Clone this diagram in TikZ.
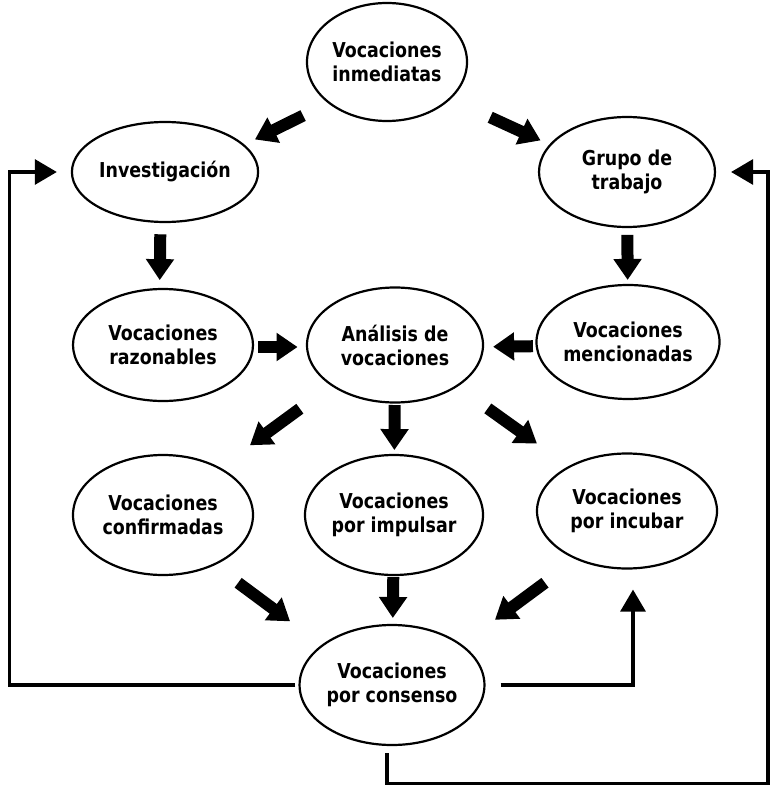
\documentclass[tikz,border=0pt]{standalone}
\usepackage{fontspec}
\setmainfont{DejaVu Sans}[FakeStretch=0.85]
\usetikzlibrary{shapes.geometric,arrows.meta,calc}
\begin{document}
\begin{tikzpicture}[x=1pt,y=-1pt,
  voc/.style={ellipse,draw,line width=2.2pt,inner sep=0pt,align=center,
    font=\bfseries\fontsize{20.5}{24}\selectfont},
  barrow/.style={line width=12pt,-{Triangle[length=21pt,width=27pt]}},
  loopline/.style={line width=3.2pt,-{Triangle[length=22pt,width=25pt]}},
]
\useasboundingbox[fill=white] (0,0) rectangle (774,791);
% nodes
\node[voc,minimum width=160pt,minimum height=118pt] (inm) at (387,62) {Vocaciones\\inmediatas};
\node[voc,minimum width=182pt,minimum height=100pt] (inv) at (165,172) {Investigación};
\node[voc,minimum width=176pt,minimum height=110pt] (grp) at (627,172) {Grupo de\\trabajo};
\node[voc,minimum width=180pt,minimum height=112pt] (raz) at (163,345) {Vocaciones\\razonables};
\node[voc,minimum width=176pt,minimum height=115pt] (ana) at (395,345) {Análisis de\\vocaciones};
\node[voc,minimum width=180pt,minimum height=114pt] (men) at (628,342) {Vocaciones\\mencionadas};
\node[voc,minimum width=180pt,minimum height=120pt] (cnf) at (163,515) {Vocaciones\\confirmadas};
\node[voc,minimum width=178pt,minimum height=120pt] (imp) at (394,515) {Vocaciones\\por impulsar};
\node[voc,minimum width=180pt,minimum height=115pt] (inc) at (627,511) {Vocaciones\\por incubar};
\node[voc,minimum width=180pt,minimum height=120pt] (cons) at (392,685) {Vocaciones\\por consenso};
% block arrows
\draw[barrow] ($(inm)!0.378!(inv)+(0,12)$) -- ($(inm)!0.595!(inv)+(0,12)$);
\draw[barrow] ($(inm)!0.43!(grp)+(0,8)$) -- ($(inm)!0.64!(grp)+(0,8)$);
\draw[barrow] ($(inv)!0.36!(raz)+(-4,0)$) -- ($(inv)!0.625!(raz)+(-4,0)$);
\draw[barrow] ($(grp)!0.37!(men)$) -- ($(grp)!0.635!(men)$);
\draw[barrow] ($(raz)!0.41!(ana)+(0,2)$) -- ($(raz)!0.58!(ana)+(0,2)$);
\draw[barrow] ($(men)!0.408!(ana)+(0,3)$) -- ($(men)!0.579!(ana)+(0,3)$);
\draw[barrow] ($(ana)!0.41!(cnf)+(0,-6)$) -- ($(ana)!0.625!(cnf)+(0,-6)$);
\draw[barrow] ($(ana)!0.353!(imp)$) -- ($(ana)!0.618!(imp)$);
\draw[barrow] ($(ana)!0.40!(inc)+(0,-3)$) -- ($(ana)!0.612!(inc)+(0,-3)$);
\draw[barrow] ($(cnf)!0.328!(cons)+(0,12)$) -- ($(cnf)!0.555!(cons)+(0,12)$);
\draw[barrow] ($(imp)!0.365!(cons)$) -- ($(imp)!0.606!(cons)$);
\draw[barrow] ($(inc)!0.349!(cons)+(0,11)$) -- ($(inc)!0.562!(cons)+(0,11)$);
% loop lines
\draw[loopline,shorten >=14pt] ([xshift=-3pt]cons.west) -- ++(-286,0) |- (inv.west);
\draw[loopline,shorten >=20pt] ([xshift=15pt]cons.east) -| ([xshift=6pt]inc.south);
\draw[loopline,shorten >=15pt] ([xshift=-5pt,yshift=-7pt]cons.south) -- ++(0,30) -- ++(381,0) |- (grp.east);
\end{tikzpicture}
\end{document}
